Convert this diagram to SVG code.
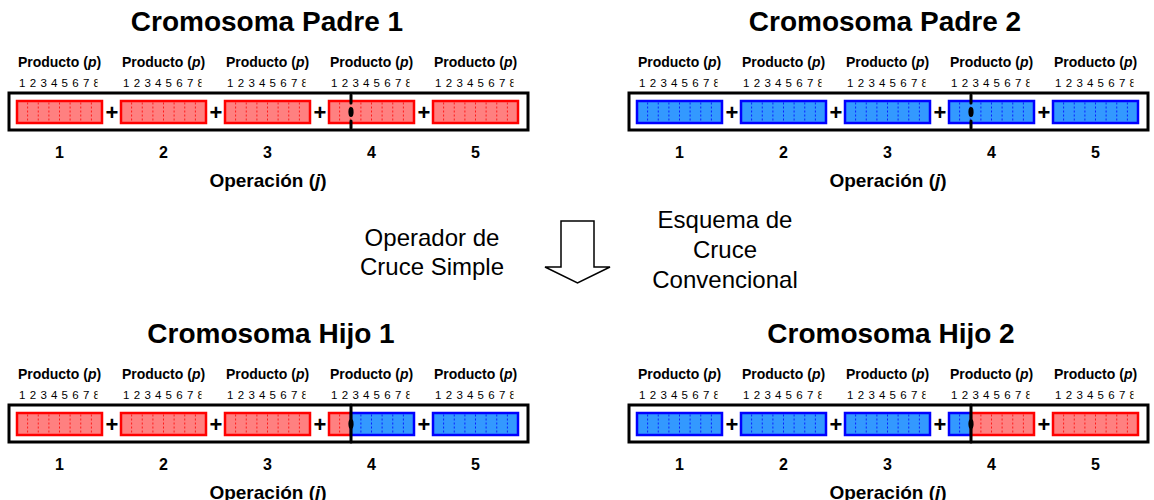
<svg xmlns="http://www.w3.org/2000/svg" xmlns:xlink="http://www.w3.org/1999/xlink" width="1154" height="500" viewBox="0 0 1154 500">
<style>
text{font-family:"Liberation Sans",Arial,sans-serif;fill:#000}
.title{font-size:28px;font-weight:bold;text-anchor:middle}
.prod{font-size:14px;font-weight:bold;text-anchor:middle}
.it{font-style:italic}
.dig{font-size:11.5px;text-anchor:middle}
.plus{font-size:22px;font-weight:bold;text-anchor:middle}
.num{font-size:16px;font-weight:bold;text-anchor:middle}
.op{font-size:19px;font-weight:bold;text-anchor:middle}
.mid{font-size:24px;text-anchor:middle}
.outer{fill:#fff;stroke:#000;stroke-width:3}
.rf{fill:#ff8080;stroke:#ff0000;stroke-width:2.5}
.bf{fill:#3399ff;stroke:#0000ff;stroke-width:2.5}
.rd{stroke:#ff0000;stroke-width:0.8;stroke-dasharray:2 2;fill:none}
.bd{stroke:#0000ff;stroke-width:0.8;stroke-dasharray:2 2;fill:none}
.cut{stroke:#000;stroke-width:3;fill:none;stroke-linecap:round}
.arrow{fill:#fff;stroke:#000;stroke-width:1.5;stroke-linejoin:miter}
</style>
<defs>
<clipPath id="dc" clipPathUnits="userSpaceOnUse"><rect x="-5" y="-30" width="85.5" height="40"/></clipPath>
<g id="lab">
<text class="prod" x="42.5" y="-34.3">Producto (<tspan class="it">p</tspan>)</text>
<g clip-path="url(#dc)"><text class="dig" x="5.3 15.9 26.6 37.2 47.8 58.4 69.1 79.7" y="-14.5">12345678</text></g>
</g>
<g id="geneR"><rect class="rf" x="0" y="0" width="85" height="22"/><path class="rd" d="M10.6,1.5V20.5M21.25,1.5V20.5M31.9,1.5V20.5M42.5,1.5V20.5M53.1,1.5V20.5M63.75,1.5V20.5M74.4,1.5V20.5"/></g>
<g id="geneB"><rect class="bf" x="0" y="0" width="85" height="22"/><path class="bd" d="M10.6,1.5V20.5M21.25,1.5V20.5M31.9,1.5V20.5M42.5,1.5V20.5M53.1,1.5V20.5M63.75,1.5V20.5M74.4,1.5V20.5"/></g>
<g id="frame">
<rect class="outer" x="9" y="93" width="519" height="37"/>
<use xlink:href="#lab" x="17" y="101"/><use xlink:href="#lab" x="121" y="101"/><use xlink:href="#lab" x="225" y="101"/><use xlink:href="#lab" x="329" y="101"/><use xlink:href="#lab" x="433" y="101"/>
<text class="plus" x="112" y="120">+</text><text class="plus" x="216" y="120">+</text><text class="plus" x="320" y="120">+</text><text class="plus" x="424" y="120">+</text>
<text class="num" x="59.5" y="158">1</text><text class="num" x="163.5" y="158">2</text><text class="num" x="267.5" y="158">3</text><text class="num" x="371.5" y="158">4</text><text class="num" x="475.5" y="158">5</text>
<text class="op" x="268" y="187">Operación (<tspan class="it">j</tspan>)</text>
</g>
</defs>

<g id="padre1">
<text class="title" x="267" y="31">Cromosoma Padre 1</text>
<use xlink:href="#frame"/>
<use xlink:href="#geneR" x="17" y="101"/><use xlink:href="#geneR" x="121" y="101"/><use xlink:href="#geneR" x="225" y="101"/><use xlink:href="#geneR" x="329" y="101"/><use xlink:href="#geneR" x="433" y="101"/>
<path class="cut" d="M351,95V103M351,121V128"/>
<ellipse cx="351" cy="112" rx="2.6" ry="5" fill="#000"/>
</g>

<g id="padre2" transform="translate(620,0)">
<text class="title" x="265" y="31">Cromosoma Padre 2</text>
<use xlink:href="#frame"/>
<use xlink:href="#geneB" x="17" y="101"/><use xlink:href="#geneB" x="121" y="101"/><use xlink:href="#geneB" x="225" y="101"/><use xlink:href="#geneB" x="329" y="101"/><use xlink:href="#geneB" x="433" y="101"/>
<path class="cut" d="M351,95V103M351,121V128"/>
<ellipse cx="351" cy="112" rx="2.6" ry="5" fill="#000"/>
</g>

<g id="hijo1" transform="translate(0,312)">
<text class="title" x="271" y="31">Cromosoma Hijo 1</text>
<use xlink:href="#frame"/>
<use xlink:href="#geneR" x="17" y="101"/><use xlink:href="#geneR" x="121" y="101"/><use xlink:href="#geneR" x="225" y="101"/>
<rect class="rf" x="329" y="101" width="22" height="22"/><path class="rd" d="M339.6,102.5V121.5"/>
<rect class="bf" x="351" y="101" width="63" height="22"/><path class="bd" d="M360.9,102.5V121.5M371.5,102.5V121.5M382.1,102.5V121.5M392.75,102.5V121.5M403.4,102.5V121.5"/>
<use xlink:href="#geneB" x="433" y="101"/>
<path class="cut" d="M351,93V130" stroke-linecap="butt"/>
<ellipse cx="351" cy="112" rx="2.6" ry="5" fill="#000"/>
</g>

<g id="hijo2" transform="translate(620,312)">
<text class="title" x="271" y="31">Cromosoma Hijo 2</text>
<use xlink:href="#frame"/>
<use xlink:href="#geneB" x="17" y="101"/><use xlink:href="#geneB" x="121" y="101"/><use xlink:href="#geneB" x="225" y="101"/>
<rect class="bf" x="329" y="101" width="22" height="22"/><path class="bd" d="M339.6,102.5V121.5"/>
<rect class="rf" x="351" y="101" width="63" height="22"/><path class="rd" d="M360.9,102.5V121.5M371.5,102.5V121.5M382.1,102.5V121.5M392.75,102.5V121.5M403.4,102.5V121.5"/>
<use xlink:href="#geneR" x="433" y="101"/>
<path class="cut" d="M351,93V130" stroke-linecap="butt"/>
<ellipse cx="351" cy="112" rx="2.6" ry="5" fill="#000"/>
</g>

<g id="operador-label">
<text class="mid" x="432" y="246">Operador de</text>
<text class="mid" x="432" y="275">Cruce Simple</text>
</g>
<g id="esquema-label">
<text class="mid" x="725" y="228">Esquema de</text>
<text class="mid" x="725" y="258">Cruce</text>
<text class="mid" x="725" y="288">Convencional</text>
</g>

<g id="connectors">
<polygon class="arrow" points="561,221 594,221 594,267 610,267 577.5,283 545,267 561,267"/>
</g>
</svg>
